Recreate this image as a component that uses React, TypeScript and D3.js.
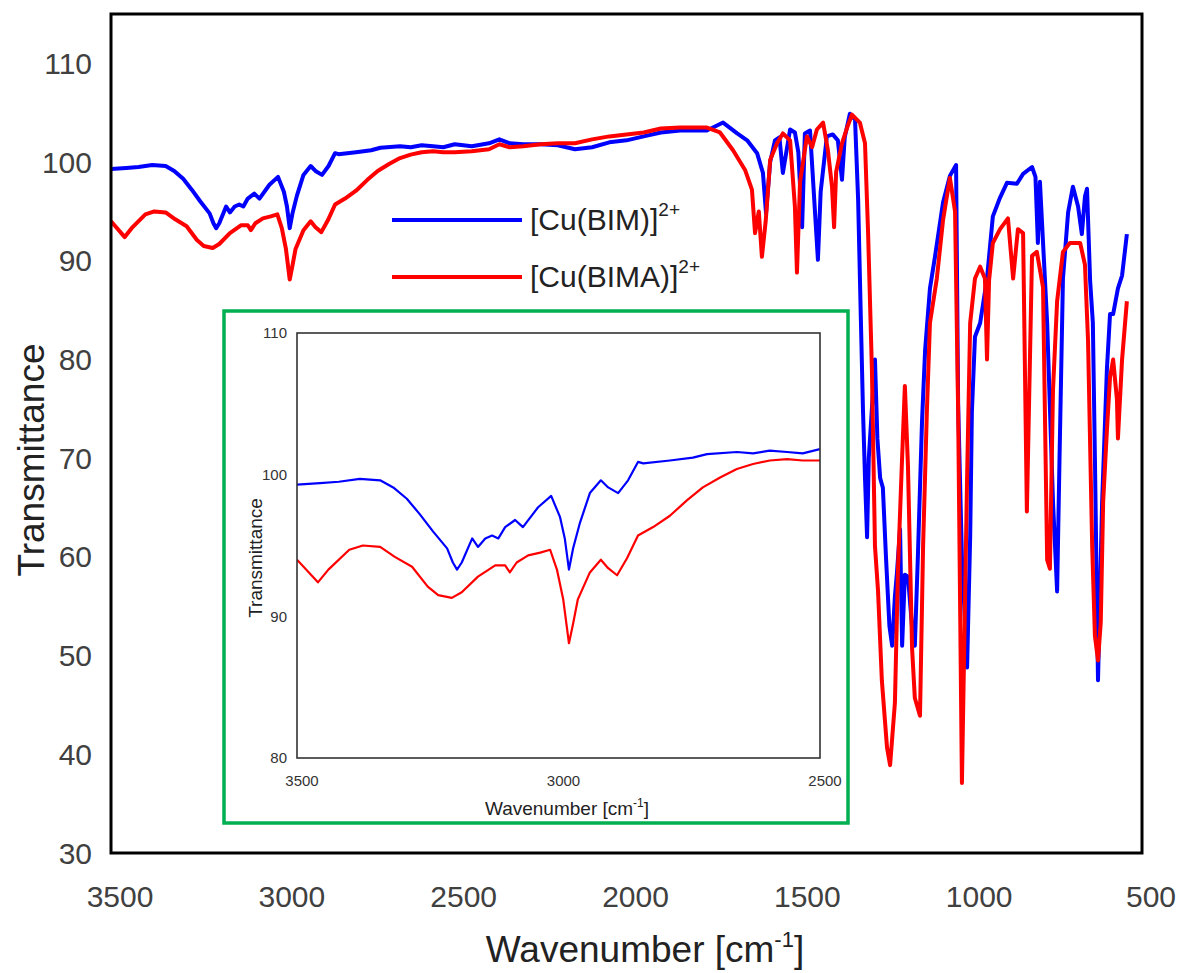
import React from 'react';
import * as d3 from 'd3';

// FT-IR spectra, [wavenumber cm-1, transmittance %]
const cuBIM: [number, number][] = [
  [3500, 99.3], [3456, 99.4], [3420, 99.5], [3380, 99.7], [3341, 99.6], [3316, 99.1], [3290, 98.3],
  [3265, 97.2], [3240, 96.0], [3213, 94.8], [3202, 93.8], [3194, 93.3], [3185, 93.8], [3165, 95.5],
  [3154, 94.9], [3140, 95.5], [3127, 95.7], [3115, 95.5], [3102, 96.3], [3083, 96.8], [3068, 96.3],
  [3039, 97.7], [3014, 98.5], [2997, 97.0], [2988, 95.5], [2980, 93.3], [2972, 94.8], [2959, 96.6],
  [2940, 98.7], [2919, 99.6], [2905, 99.1], [2886, 98.7], [2867, 99.6], [2848, 100.9], [2838, 100.8],
  [2787, 101.0], [2743, 101.2], [2716, 101.45], [2659, 101.6], [2628, 101.5], [2596, 101.7],
  [2563, 101.6], [2533, 101.5], [2500, 101.8],
  [2450, 101.6], [2400, 101.9], [2370, 102.3], [2340, 101.9], [2300, 101.8], [2250, 101.8],
  [2200, 101.7], [2150, 101.3], [2100, 101.5], [2050, 102.0], [2000, 102.2], [1950, 102.6],
  [1900, 103.0], [1844, 103.2], [1766, 103.2], [1719, 104.0], [1678, 102.9], [1649, 102.2],
  [1620, 100.9], [1603, 98.9], [1594, 94.8], [1582, 100.0], [1568, 102.2], [1555, 102.5],
  [1545, 98.9], [1524, 103.3], [1510, 103.0], [1500, 101.0], [1489, 93.4], [1481, 102.9],
  [1466, 103.2], [1452, 95.2], [1443, 90.1], [1435, 97.0], [1417, 102.6], [1400, 102.8],
  [1385, 102.2], [1373, 98.2], [1365, 102.5], [1350, 104.9], [1335, 104.3], [1326, 96.2],
  [1318, 84.0], [1312, 75.0], [1306, 68.0], [1300, 62.0], [1295, 70.0], [1286, 75.0], [1277, 80.0],
  [1270, 72.0], [1262, 68.0], [1254, 67.0], [1245, 60.0], [1235, 53.0], [1227, 51.0], [1219, 56.0],
  [1213, 58.4], [1204, 62.8], [1198, 51.0], [1190, 58.2], [1181, 58.0], [1169, 52.9], [1161, 51.0],
  [1152, 60.2], [1140, 73.8], [1131, 81.0], [1117, 87.2], [1102, 90.5], [1079, 95.9], [1059, 98.6],
  [1041, 99.7], [1035, 75.5], [1024, 60.0], [1009, 48.8], [1000, 62.0], [995, 74.7], [986, 82.3],
  [971, 83.7], [951, 88.2], [934, 94.5], [913, 96.4], [893, 97.9], [864, 97.8], [846, 98.8],
  [820, 99.5], [810, 98.5], [803, 91.8], [797, 98.0], [776, 83.7], [759, 65.6], [747, 56.5],
  [740, 70.0], [730, 88.2], [715, 94.9], [701, 97.5], [686, 95.5], [675, 92.7], [666, 96.5],
  [660, 97.3], [651, 88.0], [643, 83.7], [637, 70.0], [628, 47.5], [616, 65.6], [602, 79.1],
  [593, 84.6], [584, 84.6], [570, 87.2], [558, 88.5], [544, 92.7],
];

const cuBIMA: [number, number][] = [
  [3500, 94.0], [3460, 92.4], [3440, 93.3], [3400, 94.7], [3374, 95.0], [3341, 94.9], [3313, 94.2],
  [3280, 93.5], [3250, 92.1], [3230, 91.5], [3204, 91.3], [3185, 91.7], [3154, 92.8], [3121, 93.6],
  [3102, 93.6], [3093, 93.1], [3080, 93.8], [3058, 94.3], [3035, 94.5], [3016, 94.7], [3003, 93.3],
  [2991, 91.2], [2980, 88.1], [2972, 89.5], [2963, 91.2], [2940, 93.1], [2919, 94.0], [2905, 93.4],
  [2888, 92.9], [2869, 94.1], [2848, 95.7], [2819, 96.3], [2787, 97.1], [2754, 98.2], [2724, 99.1],
  [2691, 99.8], [2659, 100.4], [2628, 100.75], [2596, 101.0], [2563, 101.1], [2533, 101.0],
  [2500, 101.0],
  [2450, 101.1], [2400, 101.3], [2370, 101.8], [2340, 101.5], [2300, 101.6], [2250, 101.8],
  [2200, 101.9], [2150, 101.9], [2100, 102.3], [2050, 102.6], [2000, 102.8], [1950, 103.0],
  [1900, 103.4], [1844, 103.5], [1766, 103.5], [1728, 103.0], [1690, 101.2], [1655, 99.2],
  [1635, 97.2], [1626, 92.8], [1615, 95.0], [1606, 90.4], [1595, 94.0], [1582, 100.2], [1562, 101.9],
  [1545, 102.9], [1524, 102.2], [1510, 95.5], [1504, 88.8], [1495, 98.0], [1475, 102.6],
  [1460, 101.5], [1446, 103.3], [1428, 104.0], [1414, 101.2], [1402, 97.5], [1396, 93.4],
  [1390, 99.0], [1373, 101.9], [1358, 103.5], [1344, 104.8], [1321, 104.0], [1306, 101.9],
  [1297, 92.8], [1286, 79.1], [1277, 61.1], [1268, 56.5], [1257, 47.5], [1242, 40.7], [1233, 38.9],
  [1219, 45.2], [1210, 58.8], [1198, 70.1], [1190, 77.3], [1181, 69.2], [1169, 50.7], [1161, 45.7],
  [1146, 43.9], [1137, 61.1], [1126, 74.7], [1117, 83.7], [1097, 88.2], [1079, 94.1], [1059, 98.4],
  [1044, 95.0], [1035, 74.7], [1024, 37.1], [1009, 67.9], [1000, 83.7], [986, 88.2], [971, 89.4],
  [957, 88.2], [951, 80.0], [945, 88.0], [934, 91.8], [913, 93.2], [890, 94.3], [875, 88.2],
  [861, 93.2], [846, 92.8], [835, 64.6], [820, 90.5], [806, 90.9], [788, 87.3], [776, 59.7],
  [768, 58.8], [759, 76.9], [747, 85.9], [730, 90.9], [710, 91.8], [680, 91.8], [666, 89.6],
  [657, 81.9], [645, 61.1], [637, 52.0], [628, 49.5], [620, 53.4], [613, 65.6], [602, 72.9],
  [593, 78.2], [584, 80.0], [573, 76.0], [570, 72.0], [558, 80.0], [544, 85.9],
];

const mainXTicks = [3500, 3000, 2500, 2000, 1500, 1000, 500];
const mainYTicks = [30, 40, 50, 60, 70, 80, 90, 100, 110];
const insetXTicks = [3500, 3000, 2500];
const insetYTicks = [80, 90, 100, 110];

const FONT = 'Liberation Sans, Arial, sans-serif';
const BLUE = '#0000ff';
const RED = '#ff0000';

const App = () => {
  const x = d3.scaleLinear().domain([3500, 500]).range([111, 1142]);
  const y = d3.scaleLinear().domain([30, 115]).range([853, 14]);

  const ix = d3.scaleLinear().domain([3500, 2500]).range([297, 820]);
  const iy = d3.scaleLinear().domain([80, 110]).range([758, 333]);

  const line = d3.line<[number, number]>().x(d => x(d[0])).y(d => y(d[1]));
  const insetLine = d3.line<[number, number]>().x(d => ix(d[0])).y(d => iy(d[1]));
  const inRange = (d: [number, number]) => d[0] <= 3500 && d[0] >= 2500;

  return (
    <svg width={1185} height={973} style={{ position: 'absolute', left: 0, top: 0, background: '#fff' }}
      fontFamily={FONT}>
      <defs>
        <clipPath id="main-clip">
          <rect x={111} y={14} width={1031} height={839} />
        </clipPath>
        <clipPath id="inset-clip">
          <rect x={297} y={333} width={523} height={425} />
        </clipPath>
      </defs>

      {/* main spectra */}
      <g clipPath="url(#main-clip)" fill="none" strokeWidth={4} strokeLinejoin="round">
        <path d={line(cuBIM) || ''} stroke={BLUE} />
        <path d={line(cuBIMA) || ''} stroke={RED} />
      </g>
      <rect x={111} y={14} width={1031} height={839} fill="none" stroke="#000" strokeWidth={3} />

      {mainYTicks.map(t => (
        <text key={t} x={92} y={y(t)} dy="0.35em" textAnchor="end" fontSize={30} fill="#404040">{t}</text>
      ))}
      {mainXTicks.map(t => (
        <text key={t} x={x(t) + 9} y={907} textAnchor="middle" fontSize={30} fill="#404040">{t}</text>
      ))}
      <text transform="translate(44,460) rotate(-90)" textAnchor="middle" fontSize={37} fill="#222">Transmittance</text>
      <text x={645} y={962} textAnchor="middle" fontSize={37} fill="#222">
        Wavenumber [cm<tspan dy={-15} fontSize={22}>-1</tspan><tspan dy={15}>]</tspan>
      </text>

      {/* legend */}
      <line x1={392} x2={522} y1={220} y2={220} stroke={BLUE} strokeWidth={4} />
      <text x={530} y={230} fontSize={30} fill="#222">
        [Cu(BIM)]<tspan dy={-14} fontSize={19}>2+</tspan>
      </text>
      <line x1={392} x2={522} y1={277} y2={277} stroke={RED} strokeWidth={4} />
      <text x={530} y={287} fontSize={30} fill="#222">
        [Cu(BIMA)]<tspan dy={-14} fontSize={19}>2+</tspan>
      </text>

      {/* inset */}
      <rect x={224} y={311} width={624} height={512} fill="#fff" stroke="#00b050" strokeWidth={3.5} />
      <g clipPath="url(#inset-clip)" fill="none" strokeWidth={2.2} strokeLinejoin="round">
        <path d={insetLine(cuBIM.filter(inRange)) || ''} stroke={BLUE} />
        <path d={insetLine(cuBIMA.filter(inRange)) || ''} stroke={RED} />
      </g>
      <rect x={297} y={333} width={523} height={425} fill="none" stroke="#333" strokeWidth={1.6} />
      {insetYTicks.map(t => (
        <text key={t} x={287} y={iy(t)} dy="0.35em" textAnchor="end" fontSize={15} fill="#333">{t}</text>
      ))}
      {insetXTicks.map(t => (
        <text key={t} x={ix(t) + 5} y={786} textAnchor="middle" fontSize={15} fill="#333">{t}</text>
      ))}
      <text transform="translate(262,558) rotate(-90)" textAnchor="middle" fontSize={19} fill="#222">Transmittance</text>
      <text x={567} y={815} textAnchor="middle" fontSize={19} fill="#222">
        Wavenumber [cm<tspan dy={-8} fontSize={12}>-1</tspan><tspan dy={8}>]</tspan>
      </text>
    </svg>
  );
};

export default App;
